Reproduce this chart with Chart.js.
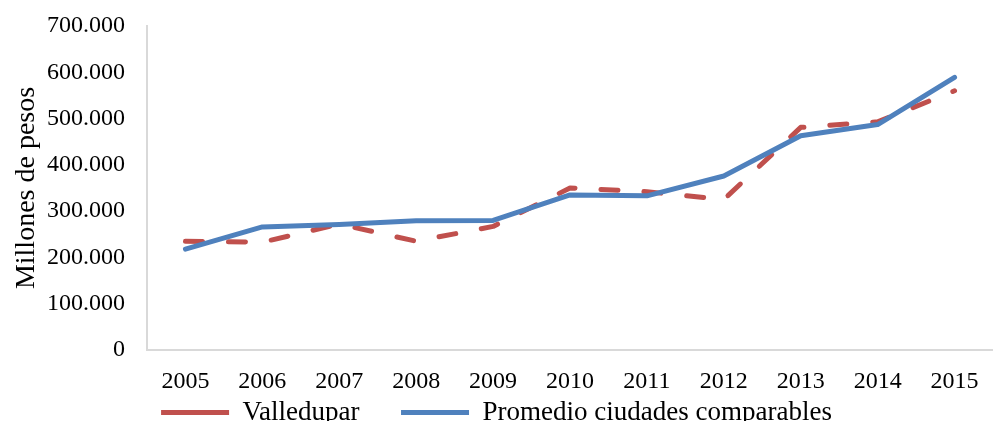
<!DOCTYPE html>
<html>
<head>
<meta charset="utf-8">
<script src="https://cdn.jsdelivr.net/npm/chart.js@4.4.1/dist/chart.umd.min.js"></script>
<style>
  html, body { margin: 0; padding: 0; background: #fff; }
  #wrap { width: 993px; height: 421px; }
</style>
</head>
<body>
<div id="wrap"><canvas id="myChart"></canvas></div>
<script>
const years = ['2005', '2006', '2007', '2008', '2009', '2010', '2011', '2012', '2013', '2014', '2015'];
const valledupar = [235000, 233000, 272000, 235000, 267000, 350000, 342000, 325000, 481000, 493000, 560000];
const promedio = [218000, 266000, 271000, 279000, 280000, 335000, 333000, 376000, 463000, 487000, 589000];

Chart.defaults.font.family = "'Liberation Serif', serif";
Chart.defaults.color = '#000';

const fmt = v => String(v).replace(/\B(?=(\d{3})+(?!\d))/g, '.');

const data = {
  labels: years,
  datasets: [{
    label: 'Promedio ciudades comparables',
    data: promedio,
    borderColor: '#4f81bd',
    backgroundColor: '#4f81bd',
    borderWidth: 5,
    borderCapStyle: 'round',
    borderJoinStyle: 'round',
    pointRadius: 0,
    tension: 0
  }, {
    label: 'Valledupar',
    data: valledupar,
    borderColor: '#c0504d',
    backgroundColor: '#c0504d',
    borderWidth: 5,
    borderDash: [17, 26],
    borderCapStyle: 'round',
    borderJoinStyle: 'round',
    pointRadius: 0,
    tension: 0
  }]
};

// config
const config = {
  type: 'line',
  data,
  options: {
    responsive: true,
    maintainAspectRatio: false,
    animation: false,
    layout: {
      padding: { left: 0, right: 0, top: 26, bottom: -15 }
    },
    plugins: {
      tooltip: { enabled: false },
      legend: {
        position: 'bottom',
        reverse: true,
        labels: {
          font: { size: 27 },
          usePointStyle: true,
          pointStyle: 'line',
          pointStyleWidth: 68,
          boxHeight: 20,
          padding: 1,
          generateLabels(chart) {
            const items = Chart.defaults.plugins.legend.labels.generateLabels(chart);
            items.forEach(it => {
              it.pointStyle = 'line';
              if (it.text === 'Valledupar') it.text = it.text + '\u2003\u2002';
            });
            return items;
          }
        }
      }
    },
    scales: {
      x: {
        offset: true,
        grid: { display: false, drawTicks: false },
        border: { display: true, color: '#d9d9d9', width: 2 },
        ticks: { font: { size: 24 }, padding: 17, maxRotation: 0 },
        afterFit: scale => {
          scale.height = 48;
          scale.paddingLeft = 0;
          scale.paddingRight = 0;
        }
      },
      y: {
        min: 0,
        max: 700000,
        grid: { display: false, drawTicks: false },
        border: { display: true, color: '#d9d9d9', width: 2 },
        ticks: {
          stepSize: 100000,
          font: { size: 24 },
          padding: 22,
          callback: v => fmt(v)
        },
        title: {
          display: true,
          text: 'Millones de pesos',
          font: { size: 28 },
          padding: { top: 10, bottom: 0 }
        },
        afterFit: scale => {
          scale.width = 147;
          scale.paddingTop = 0;
          scale.paddingBottom = 0;
        }
      }
    }
  }
};

// render init block
const myChart = new Chart(
  document.getElementById('myChart'),
  config
);
</script>
</body>
</html>
